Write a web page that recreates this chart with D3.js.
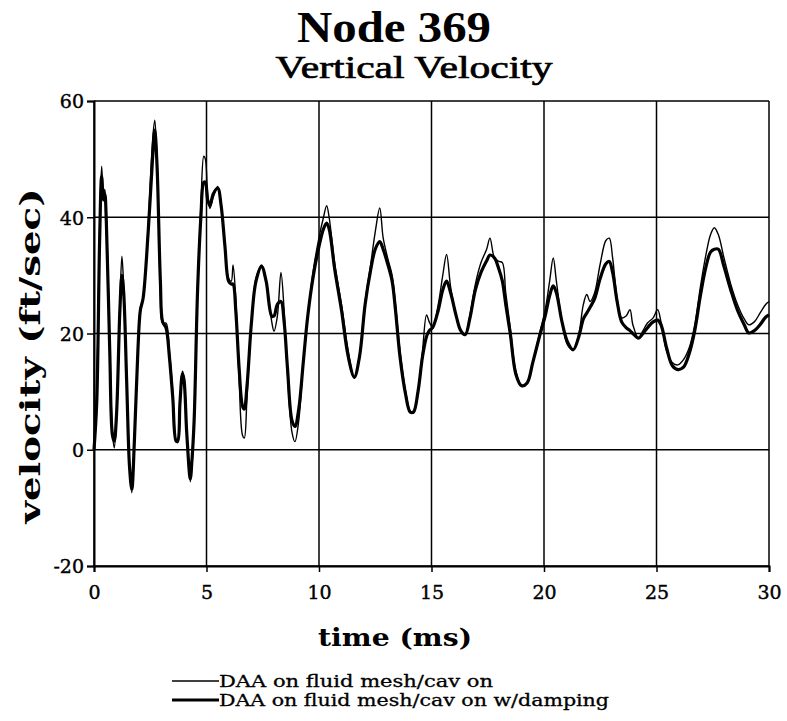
<!DOCTYPE html>
<html>
<head>
<meta charset="utf-8">
<script src="https://cdn.jsdelivr.net/npm/d3@7"></script>
<style>
  html, body { margin: 0; padding: 0; background: #fff; }
  svg { display: block; }
</style>
</head>
<body>
<script>
// ---- data ----
const times = [0,0.12,0.25,0.34,0.42,0.48,0.55,0.7,0.82,0.9,1.0,1.15,1.24,1.32,1.45,1.58,1.68,1.8,1.95,2.06,2.18,2.4,2.6,2.7,2.8,2.95,3.05,3.2,3.35,3.5,3.65,3.72,3.82,3.93,4.0,4.12,4.28,4.35,4.45,4.6,4.75,4.88,4.95,5.05,5.15,5.3,5.5,5.65,5.82,5.98,6.1,6.18,6.3,6.45,6.6,6.68,6.8,7.0,7.2,7.45,7.65,7.9,8.0,8.15,8.31,8.45,8.6,8.8,8.93,9.1,9.3,9.5,9.75,10.0,10.2,10.34,10.45,10.7,11.0,11.3,11.57,11.8,12.05,12.3,12.5,12.7,12.85,13.05,13.25,13.4,13.6,13.85,14.05,14.2,14.4,14.6,14.78,14.9,15.05,15.3,15.5,15.67,15.85,16.1,16.3,16.5,16.7,16.95,17.2,17.45,17.6,17.8,18.0,18.15,18.3,18.5,18.75,19.0,19.25,19.5,19.8,20.05,20.25,20.41,20.55,20.8,21.05,21.3,21.55,21.75,21.9,22.05,22.25,22.5,22.75,22.9,23.05,23.25,23.45,23.65,23.82,23.95,24.2,24.4,24.6,24.85,25.05,25.2,25.45,25.7,25.95,26.2,26.45,26.7,26.95,27.2,27.4,27.57,27.75,28.0,28.3,28.6,28.9,29.1,29.35,29.6,29.85,30.0];

const velocityCavOn = [0,10,38,48.8,43.5,44.8,40,18,3,0.3,5,25,33.3,28,12,-3,-7.4,2,17,24.5,26,38,53,56.7,50,28,21.8,21.8,17,10,1.5,1.2,8,13.5,12.5,3,-5.5,-3,5,28,42,50.5,50,44,41.5,43.5,45.3,42,35,29.5,29,31.8,26,12,2.5,2,9,22,29.5,31.8,29,22,20.4,23,30.5,24,13,3,1.4,5,15,23,31,36.5,40,42,40,32,25,17,12.3,16,25.5,32,37.5,41.6,36.5,33,30,25,17,10,6.7,6.3,10,17,23.2,22,21,25,30,33.6,28,23,20.5,19.8,23,28.5,32.2,34.5,36.4,33,32.4,32.2,27,21,13.5,11,11.5,15,20,24,29,33,29,22,18,17.2,20,25,26.7,25.5,27,32,36,36.4,33,26,22.7,23,24.1,21.5,19.2,20.5,21.8,22.7,24.1,22,17,15,14.6,15.5,17.5,21.5,28,33.6,37,38.2,37,33,28.5,25,22.5,21.5,22,23.5,25,25.5];

const velocityDamping = [0,8,36,47,43,44,39,17,2.5,1.5,6,24,30,27,12,-3,-6.8,2,17,24,26,37,50,55,49,29,22,21,16,9,1.5,1.5,8,13,12,3,-5,-2,5,27,40,46,46,43,42,44,45,42,35,29,28.5,28.5,24,14,7.5,7,11,22,29,31.5,29,23,23,25,25.5,22,14,5,4,7,15,23,30,35,38,39,38,31,24,16,12.5,16,25,31,34.5,35.8,34.5,32,29,24,16,9.5,6.5,6.5,10,16,19.5,20.5,21,24,27.5,29,27,23,20.5,19.8,22.5,27.5,30.5,32.5,33.5,33,31,29,25,20,13,11,11.5,15,19.5,23,26.5,28.2,27,22,18.5,17.2,19.5,22.5,23.5,24.5,26,29.5,32,32.4,30.5,25.5,22,21,20.5,20,19.2,20,21,22,22.3,21.5,17.5,14.5,13.8,14.2,16.5,20.5,26.5,31.5,34,34.5,34.5,31.5,27.5,24,21.5,20.1,20.5,21.5,22.8,23.2];

const xTicks = [0, 5, 10, 15, 20, 25, 30];
const yTicks = [-20, 0, 20, 40, 60];
const seriesNames = ["DAA on fluid mesh/cav on", "DAA on fluid mesh/cav on w/damping"];

// ---- layout ----
const W = 787, H = 721;
const plotLeft = 94, plotRight = 769, plotTop = 101, plotBottom = 566;

const svg = d3.select("body").append("svg")
  .attr("width", W).attr("height", H)
  .attr("viewBox", `0 0 ${W} ${H}`);
svg.append("rect").attr("width", W).attr("height", H).attr("fill", "#fff");

const x = d3.scaleLinear().domain([0, 30]).range([plotLeft, plotRight]);
const y = d3.scaleLinear().domain([-20, 60]).range([plotBottom, plotTop]);

// gridlines
const grid = svg.append("g").attr("stroke", "#000").attr("stroke-width", 1.5);
grid.selectAll("line.h").data(yTicks).enter().append("line")
  .attr("x1", plotLeft).attr("x2", plotRight)
  .attr("y1", d => y(d)).attr("y2", d => y(d));
grid.selectAll("line.v").data(xTicks).enter().append("line")
  .attr("y1", plotTop).attr("y2", plotBottom)
  .attr("x1", d => x(d)).attr("x2", d => x(d));

// axes
const fmt = d => String(d);
const yAxis = d3.axisLeft(y).tickValues(yTicks).tickSize(7).tickPadding(3).tickFormat(fmt);
const xAxis = d3.axisBottom(x).tickValues(xTicks).tickSize(6).tickPadding(14).tickFormat(fmt);

const gy = svg.append("g").attr("transform", `translate(${plotLeft},0)`).call(yAxis);
const gx = svg.append("g").attr("transform", `translate(0,${plotBottom})`).call(xAxis);
[gx, gy].forEach(g => {
  g.select(".domain").attr("stroke", "#000").attr("stroke-width", 2);
  g.selectAll(".tick line").attr("stroke", "#000").attr("stroke-width", 1.5);
  g.selectAll(".tick text")
    .attr("fill", "#000")
    .attr("stroke", "#000").attr("stroke-width", 0.4)
    .attr("font-family", "'DejaVu Serif', serif")
    .attr("font-size", 19);
});
gy.selectAll(".tick text").attr("dy", "0.36em");

// series
const line = d3.line()
  .x(d => x(d[0]))
  .y(d => y(d[1]))
  .curve(d3.curveCatmullRom.alpha(0.5));

const dataThin = times.map((t, i) => [t, velocityCavOn[i]]);
const dataThick = times.map((t, i) => [t, velocityDamping[i]]);

svg.append("path").datum(dataThick)
  .attr("d", line).attr("fill", "none")
  .attr("stroke", "#000").attr("stroke-width", 3.2)
  .attr("stroke-linejoin", "round");
svg.append("path").datum(dataThin)
  .attr("d", line).attr("fill", "none")
  .attr("stroke", "#000").attr("stroke-width", 1.4)
  .attr("stroke-linejoin", "round");

// titles
svg.append("text")
  .attr("x", 394).attr("y", 42)
  .attr("text-anchor", "middle")
  .attr("font-family", "'Liberation Serif', 'Times New Roman', serif")
  .attr("font-weight", "bold").attr("font-size", 44)
  .attr("textLength", 194).attr("lengthAdjust", "spacingAndGlyphs")
  .text("Node 369");

svg.append("text")
  .attr("x", 414).attr("y", 78)
  .attr("text-anchor", "middle")
  .attr("font-family", "'Liberation Serif', 'Times New Roman', serif")
  .attr("font-size", 31)
  .attr("stroke", "#000").attr("stroke-width", 0.7)
  .attr("textLength", 277).attr("lengthAdjust", "spacingAndGlyphs")
  .text("Vertical Velocity");

// axis titles
svg.append("text")
  .attr("x", 395).attr("y", 646)
  .attr("text-anchor", "middle")
  .attr("font-family", "'DejaVu Serif', serif")
  .attr("font-weight", "bold").attr("font-size", 25)
  .attr("textLength", 154).attr("lengthAdjust", "spacingAndGlyphs")
  .text("time (ms)");

svg.append("text")
  .attr("transform", "translate(40,356) rotate(-90)")
  .attr("text-anchor", "middle")
  .attr("font-family", "'DejaVu Serif', serif")
  .attr("font-weight", "bold").attr("font-size", 27)
  .attr("textLength", 335).attr("lengthAdjust", "spacingAndGlyphs")
  .text("velocity (ft/sec)");

// legend
const legend = svg.append("g");
const legendRows = [
  { name: seriesNames[0], w: 1.3, y: 681, len: 274 },
  { name: seriesNames[1], w: 3.2, y: 700, len: 390 }
];
legendRows.forEach(r => {
  legend.append("line")
    .attr("x1", 172).attr("x2", 219)
    .attr("y1", r.y).attr("y2", r.y)
    .attr("stroke", "#000").attr("stroke-width", r.w);
  legend.append("text")
    .attr("x", 219).attr("y", r.y + 6)
    .attr("font-family", "'DejaVu Serif', serif")
    .attr("font-size", 16)
    .attr("stroke", "#000").attr("stroke-width", 0.3)
    .attr("textLength", r.len).attr("lengthAdjust", "spacingAndGlyphs")
    .text(r.name);
});
</script>
</body>
</html>
